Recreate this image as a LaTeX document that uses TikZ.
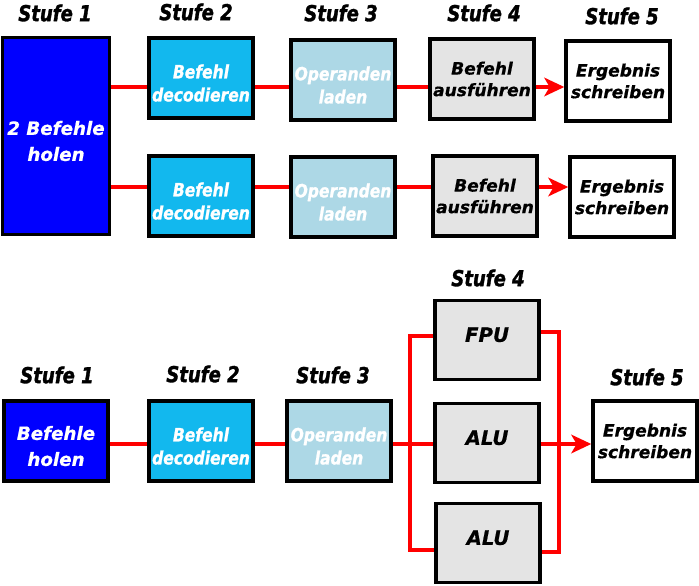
\documentclass[tikz,border=0pt]{standalone}
\usepackage{fontspec}
\setmainfont{DejaVu Sans}[FakeBold=0.6]
\newfontfamily\narrowfont{DejaVu Sans}[FakeStretch=0.85,FakeBold=1.2]
\newfontfamily\titlefont{DejaVu Sans}[FakeStretch=0.82,FakeBold=1.4]
\usetikzlibrary{arrows.meta}
\definecolor{holen}{RGB}{0,0,255}
\definecolor{decode}{RGB}{18,184,238}
\definecolor{laden}{RGB}{173,216,230}
\definecolor{exec}{RGB}{228,228,228}
\newcommand{\lowtext}{\rule{0pt}{18pt}}

\begin{document}
\begin{tikzpicture}[x=0.75pt,y=-0.75pt,
    box/.style={draw=black,line width=2.6pt,inner sep=0pt,align=center,
      minimum width=78pt,minimum height=60pt,
      font=\bfseries\itshape\fontsize{12.8}{16.2}\selectfont},
    narrow/.style={font=\narrowfont\bfseries\itshape\fontsize{13.7}{17.3}\selectfont},
    bigtext/.style={font=\bfseries\itshape\fontsize{13.7}{19.5}\selectfont},
    unit/.style={font=\bfseries\itshape\fontsize{14.8}{18}\selectfont,text depth=8pt},
    stage/.style={font=\titlefont\bfseries\itshape\fontsize{16.5}{19}\selectfont},
    link/.style={draw=red,line width=2.3pt},
    arr/.style={link,-{Stealth[length=15pt,width=14pt,inset=4pt]}}]
        \useasboundingbox (0,0) rectangle (699,585);
        % stage titles
        \node[stage] (t1) at (55,13) {Stufe 1};
        \node[stage] (t2) at (196,12) {Stufe 2};
        \node[stage] (t3) at (341,13) {Stufe 3};
        \node[stage] (t4) at (484,13) {Stufe 4};
        \node[stage] (t5) at (622,16) {Stufe 5};
        % two pipelines
        \node[box,fill=holen,text=white,bigtext,minimum width=80pt,minimum height=148pt] (b1) at (56,136) {\lowtext 2 Befehle\\holen};
        \node[box,fill=decode,text=white,narrow] (d1) at (201,78) {\lowtext Befehl\\decodieren};
        \node[box,fill=decode,text=white,narrow] (d2) at (201,196) {\lowtext Befehl\\decodieren};
        \node[box,fill=laden,text=white,narrow] (o1) at (343,80) {\lowtext Operanden\\laden};
        \node[box,fill=laden,text=white,narrow] (o2) at (343,197) {\lowtext Operanden\\laden};
        \node[box,fill=exec] (e1) at (482,79) {Befehl\\ausführen};
        \node[box,fill=exec] (e2) at (485,196) {Befehl\\ausführen};
        \node[box,fill=white] (w1) at (618,81) {Ergebnis\\schreiben};
        \node[box,fill=white] (w2) at (622,197) {Ergebnis\\schreiben};
        \coordinate (r1) at (0,87);
        \coordinate (r2) at (0,187);
        \draw[link] (b1.east |- r1) -- (d1.west |- r1);
        \draw[link] (d1.east |- r1) -- (o1.west |- r1);
        \draw[link] (o1.east |- r1) -- (e1.west |- r1);
        \draw[arr] (e1.east |- r1) -- (w1.west |- r1);
        \draw[link] (b1.east |- r2) -- (d2.west |- r2);
        \draw[link] (d2.east |- r2) -- (o2.west |- r2);
        \draw[link] (o2.east |- r2) -- (e2.west |- r2);
        \draw[arr] (e2.east |- r2) -- (w2.west |- r2);
        % pipeline with three units
        \node[stage] (u1) at (57,375) {Stufe 1};
        \node[stage] (u2) at (203,374) {Stufe 2};
        \node[stage] (u3) at (333,375) {Stufe 3};
        \node[stage] (u4) at (488,278) {Stufe 4};
        \node[stage] (u5) at (647,377) {Stufe 5};
        \node[box,fill=holen,text=white,bigtext] (f3) at (56,441) {\lowtext Befehle\\holen};
        \node[box,fill=decode,text=white,narrow] (d3) at (201,441) {\lowtext Befehl\\decodieren};
        \node[box,fill=laden,text=white,narrow] (o3) at (339,441) {\lowtext Operanden\\laden};
        \node[box,fill=exec,unit,minimum height=59pt] (fpu) at (487,340) {FPU};
        \node[box,fill=exec,unit,minimum height=59pt] (alu1) at (487,443) {ALU};
        \node[box,fill=exec,unit,minimum height=59pt] (alu2) at (488,543) {ALU};
        \node[box,fill=white] (w3) at (645,441) {Ergebnis\\schreiben};
        \coordinate (r3) at (0,444);
        \coordinate (fork) at (410,444);
        \coordinate (join) at (559,444);
        \draw[link] (f3.east |- r3) -- (d3.west |- r3);
        \draw[link] (d3.east |- r3) -- (o3.west |- r3);
        \draw[link] (o3.east |- r3) -- (alu1.west |- r3);
        \draw[link] (fpu.west |- 0,336) -| (fork) |- (alu2.west |- 0,550);
        \draw[link] (fpu.east |- 0,332) -| (join) |- (alu2.east |- 0,552);
        \draw[arr] (alu1.east |- r3) -- (w3.west |- r3);
\end{tikzpicture}
\end{document}
